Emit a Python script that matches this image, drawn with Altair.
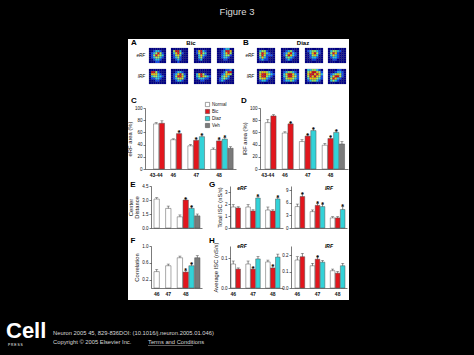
import altair as alt
import pandas as pd

FONT = "Liberation Sans"
W, H = 474, 355
CONDITIONS = ["Normal", "Bic", "Diaz", "Veh"]
CONDITION_COLORS = ["#ffffff", "#e2161d", "#33d2d8", "#7a7a7a"]
HEAT_LEVELS = [0, 1, 2, 3, 4, 5]
HEAT_COLORS = ["#00008f", "#0a4cff", "#22d3f2", "#a6ff5c", "#ffd200", "#e4120e"]

# ---- panel A (Bic) / B (Diaz) receptive-field maps (levels 0..5) ----
BIC_ERF = [
    ["00000000", "00122100", "01235310", "01354320", "01233210", "00122100", "00011000"],
    ["00000000", "03552000", "02453100", "01342000", "01231000", "00121000", "00010000"],
    ["00000000", "01452100", "01353200", "00242100", "00231000", "00120000", "00000000"],
    ["00012200", "00125540", "00124530", "00123310", "00122100", "00011000", "00000000"],
]
BIC_IRF = [
    ["00000000", "05531000", "04442100", "02332210", "01122100", "00011000", "00000000"],
    ["00000000", "00122100", "01245310", "01355420", "01234310", "00122100", "00000000"],
    ["00000000", "00000000", "02453100", "02354321", "01222110", "00011000", "00000000"],
    ["00001120", "00013550", "00124430", "00234200", "01232100", "01210000", "00000000"],
]
DIAZ_ERF = [
    ["00000000", "02331000", "03542100", "03531110", "02421000", "01211000", "00000000"],
    ["00000000", "00123100", "01245210", "01354210", "00232100", "00121000", "00000000"],
    ["00000000", "01233210", "00245310", "00134200", "00122100", "00011000", "00000000"],
    ["00000000", "02332100", "03541000", "02421000", "01221000", "00110000", "00000000"],
]
DIAZ_IRF = [
    ["00000000", "03443210", "04554321", "04553210", "03442100", "01221000", "00000000"],
    ["00000000", "01233210", "02455421", "02355431", "01344321", "01223210", "00000000"],
    ["02233210", "03455431", "04554542", "03545431", "02444321", "01233210", "00000000"],
    ["00001100", "00012210", "01234310", "02455310", "03542100", "02321000", "00000000"],
]

# ---- bar panels: values per group, in condition order Normal, Bic, Diaz, Veh ----
C_GROUPS = ["43-44", "46", "47", "48"]
C_VALUES = [[74, 75], [48, 58], [38, 47, 53], [32, 46, 49, 34]]
C_SEM = [[2, 4], [1.5, 3], [2, 2.5, 3], [2.5, 3, 3, 2.5]]
C_STARS = [[0, 0], [0, 1], [0, 1, 1], [0, 1, 1, 0]]

D_GROUPS = ["43-44", "46", "47", "48"]
D_VALUES = [[76, 87], [59, 74], [45, 54, 63], [39, 50, 60, 41]]
D_SEM = [[5, 2], [2, 2], [3, 2.5, 3], [3, 3, 3, 4]]
D_STARS = [[0, 0], [0, 1], [0, 1, 1], [0, 1, 1, 0]]

EF_GROUPS = ["46", "47", "48"]
E_VALUES = [[3.1], [2.1], [1.2, 3.0, 2.1, 1.3]]
E_SEM = [[0.15], [0.25], [0.2, 0.15, 0.2, 0.2]]
E_STARS = [[0], [0], [0, 1, 1, 0]]
F_VALUES = [[0.39], [0.53], [0.72, 0.38, 0.53, 0.72]]
F_SEM = [[0.05], [0.04], [0.04, 0.04, 0.05, 0.05]]
F_STARS = [[0], [0], [0, 1, 1, 0]]

GH_GROUPS = ["46", "47", "48"]
G_ERF_VALUES = [[1.75, 1.67], [1.75, 1.42, 2.5], [1.5, 1.42, 2.42]]
G_ERF_SEM = [[0.2, 0.1], [0.2, 0.1, 0.15], [0.25, 0.1, 0.15]]
G_ERF_STARS = [[0, 0], [0, 0, 1], [0, 0, 1]]
G_IRF_VALUES = [[5.1, 7.5], [3.9, 5.4, 5.1], [2.4, 2.4, 4.4]]
G_IRF_SEM = [[0.6, 0.7], [0.4, 0.5, 0.6], [0.3, 0.3, 0.8]]
G_IRF_STARS = [[0, 1], [0, 1, 1], [0, 0, 1]]
H_ERF_VALUES = [[0.08, 0.063], [0.08, 0.063, 0.097], [0.087, 0.067, 0.103]]
H_ERF_SEM = [[0.01, 0.004], [0.01, 0.005, 0.008], [0.006, 0.007, 0.01]]
H_ERF_STARS = [[0, 0], [0, 1, 0], [0, 1, 0]]
H_IRF_VALUES = [[0.17, 0.19], [0.135, 0.175, 0.157], [0.105, 0.09, 0.135]]
H_IRF_SEM = [[0.02, 0.02], [0.015, 0.015, 0.01], [0.01, 0.01, 0.015]]
H_IRF_STARS = [[0, 0], [0, 1, 0], [0, 0, 0]]

ONE = alt.Data(values=[{}])
COLOR_SCALE = alt.Scale(domain=CONDITIONS, range=CONDITION_COLORS)
AXIS_STYLE = dict(
    zindex=2, grid=False, domainColor="#222222", domainWidth=0.6, tickColor="#222222",
    tickWidth=0.6, tickSize=2, labelColor="#111111", labelFont=FONT,
    titleFontSize=5.8, titleColor="#111111", titleFontWeight="normal", titleFont=FONT,
)


def label(text, x, y, size, weight="normal", style="normal", color="black",
          align="center", baseline="middle"):
    return alt.Chart(ONE).mark_text(
        text=text, fontSize=size, fontWeight=weight, fontStyle=style, color=color,
        align=align, baseline=baseline, font=FONT,
    ).encode(x=alt.value(x), y=alt.value(y))


def heat(grid, x0, x1, y0, y1):
    rows = [{"r": r, "c": c, "v": int(ch)}
            for r, line in enumerate(grid) for c, ch in enumerate(line)]
    return alt.Chart(pd.DataFrame(rows)).mark_rect(stroke="#10104a", strokeWidth=0.2).encode(
        x=alt.X("c:O", axis=None, scale=alt.Scale(range=[x0, x1], paddingInner=0, paddingOuter=0)),
        y=alt.Y("r:O", axis=None, scale=alt.Scale(range=[y0, y1], paddingInner=0, paddingOuter=0)),
        fill=alt.Fill("v:O", scale=alt.Scale(domain=HEAT_LEVELS, range=HEAT_COLORS), legend=None),
    )


def bar_panel(groups, values, sems, stars, x0, x1, ybot, ytop, ymax, yticks, fmt, ytitle,
              pad_outer, align, show_labels, legend=None):
    rows, domain, labels = [], [], {}
    for gi, (g, vals, errs, sts) in enumerate(zip(groups, values, sems, stars)):
        if gi > 0:
            domain.append(f"gap{gi}")
        for ci, (v, e, s) in enumerate(zip(vals, errs, sts)):
            slot = f"{g}|{CONDITIONS[ci]}"
            domain.append(slot)
            rows.append({"slot": slot, "cond": CONDITIONS[ci], "value": v,
                         "lo": v - e, "hi": v + e, "star": "*" if s else ""})
        labels[f"{g}|{CONDITIONS[(len(vals) - 1) // 2]}"] = g
    expr = "''"
    for slot, lab in labels.items():
        expr = f"datum.value === '{slot}' ? '{lab}' : ({expr})"
    df = pd.DataFrame(rows)

    xs = alt.Scale(domain=domain, range=[x0, x1], paddingInner=0.08,
                   paddingOuter=pad_outer, align=align)
    xa = alt.Axis(orient="bottom", offset=ybot - H, title=None, labelExpr=expr,
                  labels=show_labels, ticks=False, labelAngle=0, labelFontWeight="bold",
                  labelFontSize=5, labelPadding=3, labelOverlap=False, **AXIS_STYLE)
    ys = alt.Scale(domain=[0, ymax], range=[ybot, ytop], nice=False, zero=True)
    ya = alt.Axis(orient="left", offset=-x0, values=yticks, format=fmt, title=ytitle,
                  titlePadding=2, titleLineHeight=6, labelFontSize=4.5, labelPadding=1,
                  **AXIS_STYLE)
    x = alt.X("slot:N", scale=xs, axis=xa)

    err = alt.Chart(df).mark_rule(color="#333333", strokeWidth=0.6).encode(
        x=x, y=alt.Y("lo:Q", scale=ys, axis=ya), y2="hi:Q")
    color = alt.Color("cond:N", scale=COLOR_SCALE, legend=legend)
    bars = alt.Chart(df).mark_bar(stroke="#555555", strokeWidth=0.5).encode(
        x=x, y=alt.Y("value:Q", scale=ys, axis=ya), color=color)
    caps = alt.Chart(df).mark_tick(color="#333333", thickness=0.6, size=3).encode(
        x=x, y=alt.Y("hi:Q", scale=ys, axis=ya))
    star = alt.Chart(df).mark_text(fontSize=7, fontWeight="bold", color="black",
                                   baseline="alphabetic", dy=3, font=FONT).encode(
        x=x, y=alt.Y("hi:Q", scale=ys, axis=ya), text="star:N")
    return alt.layer(err, bars, caps, star)


# ---- page decoration: white figure panel, titles, panel letters, footer ----
decor = [
    alt.Chart(ONE).mark_rect(color="white").encode(
        x=alt.value(128), x2=alt.value(349), y=alt.value(39), y2=alt.value(300)),
    label("Figure 3", 237, 12, 9.5, color="#dcdcdc"),
    label("A", 134, 43, 8, "bold"),
    label("B", 246, 43, 8, "bold"),
    label("Bic", 191, 43, 6, "bold"),
    label("Diaz", 303, 43, 6, "bold"),
    label("eRF", 145, 55.5, 4.5, style="italic", align="right"),
    label("IRF", 145, 76.5, 4.5, style="italic", align="right"),
    label("eRF", 254, 55.5, 4.5, style="italic", align="right"),
    label("IRF", 254, 76.5, 4.5, style="italic", align="right"),
    label("C", 134, 101, 8, "bold"),
    label("D", 244, 101, 8, "bold"),
    label("E", 133, 185, 8, "bold"),
    label("F", 133, 241, 8, "bold"),
    label("G", 212, 185, 8, "bold"),
    label("H", 212, 241, 8, "bold"),
    label("eRF", 242, 188, 5, "bold", "italic"),
    label("IRF", 329, 188, 5, "bold", "italic"),
    label("eRF", 242, 246, 5, "bold", "italic"),
    label("IRF", 329, 246, 5, "bold", "italic"),
    label("Cell", 6, 338, 22, "bold", color="white", align="left", baseline="alphabetic"),
    label("P R E S S", 8, 345, 3.3, color="white", align="left"),
    label("Neuron 2005 45, 829-836DOI: (10.1016/j.neuron.2005.01.046)", 53, 333, 5.8,
          color="#d8d8d8", align="left"),
    label("Copyright \u00a9 2005 Elsevier Inc.", 53, 342, 5.8, color="#d8d8d8", align="left"),
    label("Terms and Conditions", 148, 342, 5.8, color="#d8d8d8", align="left"),
    alt.Chart(ONE).mark_rule(color="#bbbbbb", strokeWidth=0.5).encode(
        x=alt.value(148), x2=alt.value(193), y=alt.value(345.5)),
]

A_X = [(149, 166), (171, 188), (194, 211), (217, 234)]
B_X = [(257, 275), (281, 299), (305, 323), (328, 346)]
ROW_ERF = (48, 63)
ROW_IRF = (69, 84)
heatmaps = []
for maps, xs in ((BIC_ERF, A_X), (DIAZ_ERF, B_X)):
    for grid, (a, b) in zip(maps, xs):
        heatmaps.append(heat(grid, a, b, *ROW_ERF))
for maps, xs in ((BIC_IRF, A_X), (DIAZ_IRF, B_X)):
    for grid, (a, b) in zip(maps, xs):
        heatmaps.append(heat(grid, a, b, *ROW_IRF))

legend_c = alt.Legend(orient="none", legendX=205, legendY=102, title=None,
                      symbolType="square", symbolSize=18, symbolStrokeColor="#444444",
                      symbolStrokeWidth=0.5, labelFontSize=4.5, labelColor="#111",
                      rowPadding=0, padding=0, labelOffset=2, zindex=2)

panels = [
    bar_panel(C_GROUPS, C_VALUES, C_SEM, C_STARS, 145, 236, 169, 108, 100,
              [0, 20, 40, 60, 80, 100], "d", "eRF area (%)", 1.0, 0.75, True, legend=legend_c),
    bar_panel(D_GROUPS, D_VALUES, D_SEM, D_STARS, 260, 348, 169, 108, 100,
              [0, 20, 40, 60, 80, 100], "d", "IRF area (%)", 0.75, 0.6, True),
    bar_panel(EF_GROUPS, E_VALUES, E_SEM, E_STARS, 151, 202, 228, 186, 4.5,
              [0, 1.5, 3.0, 4.5], ".1f", ["Center", "Distance"], 0.43, 0.6, False),
    bar_panel(EF_GROUPS, F_VALUES, F_SEM, F_STARS, 151, 202, 288, 246, 1.0,
              [0.2, 0.6, 1.0], ".1f", "Correlation", 0.43, 0.6, True),
    bar_panel(GH_GROUPS, G_ERF_VALUES, G_ERF_SEM, G_ERF_STARS, 230, 283, 228, 186, 3.5,
              [0, 1, 2, 3], "d", "Total ISC (nS/s)", 0.4, 0.25, False),
    bar_panel(GH_GROUPS, G_IRF_VALUES, G_IRF_SEM, G_IRF_STARS, 291, 347, 228, 186, 10,
              [0, 3, 6, 9], "d", "", 0.6, 0.67, False),
    bar_panel(GH_GROUPS, H_ERF_VALUES, H_ERF_SEM, H_ERF_STARS, 230, 283, 288, 246, 0.14,
              [0, 0.1], ".1f", "Average ISC (nS/s)", 0.4, 0.25, True),
    bar_panel(GH_GROUPS, H_IRF_VALUES, H_IRF_SEM, H_IRF_STARS, 291, 347, 288, 246, 0.255,
              [0, 0.1, 0.2], ".1f", "", 0.6, 0.67, True),
]

chart = alt.layer(*decor, *heatmaps, *panels).resolve_scale(
    x="independent", y="independent"
).resolve_axis(
    x="independent", y="independent"
).properties(
    width=W, height=H, padding=0, background="black",
    autosize=alt.AutoSizeParams(type="none"),
).configure(
    font=FONT
).configure_view(
    stroke="transparent"
)

chart.save("out.html", embed_options={"renderer": "svg", "actions": False})
